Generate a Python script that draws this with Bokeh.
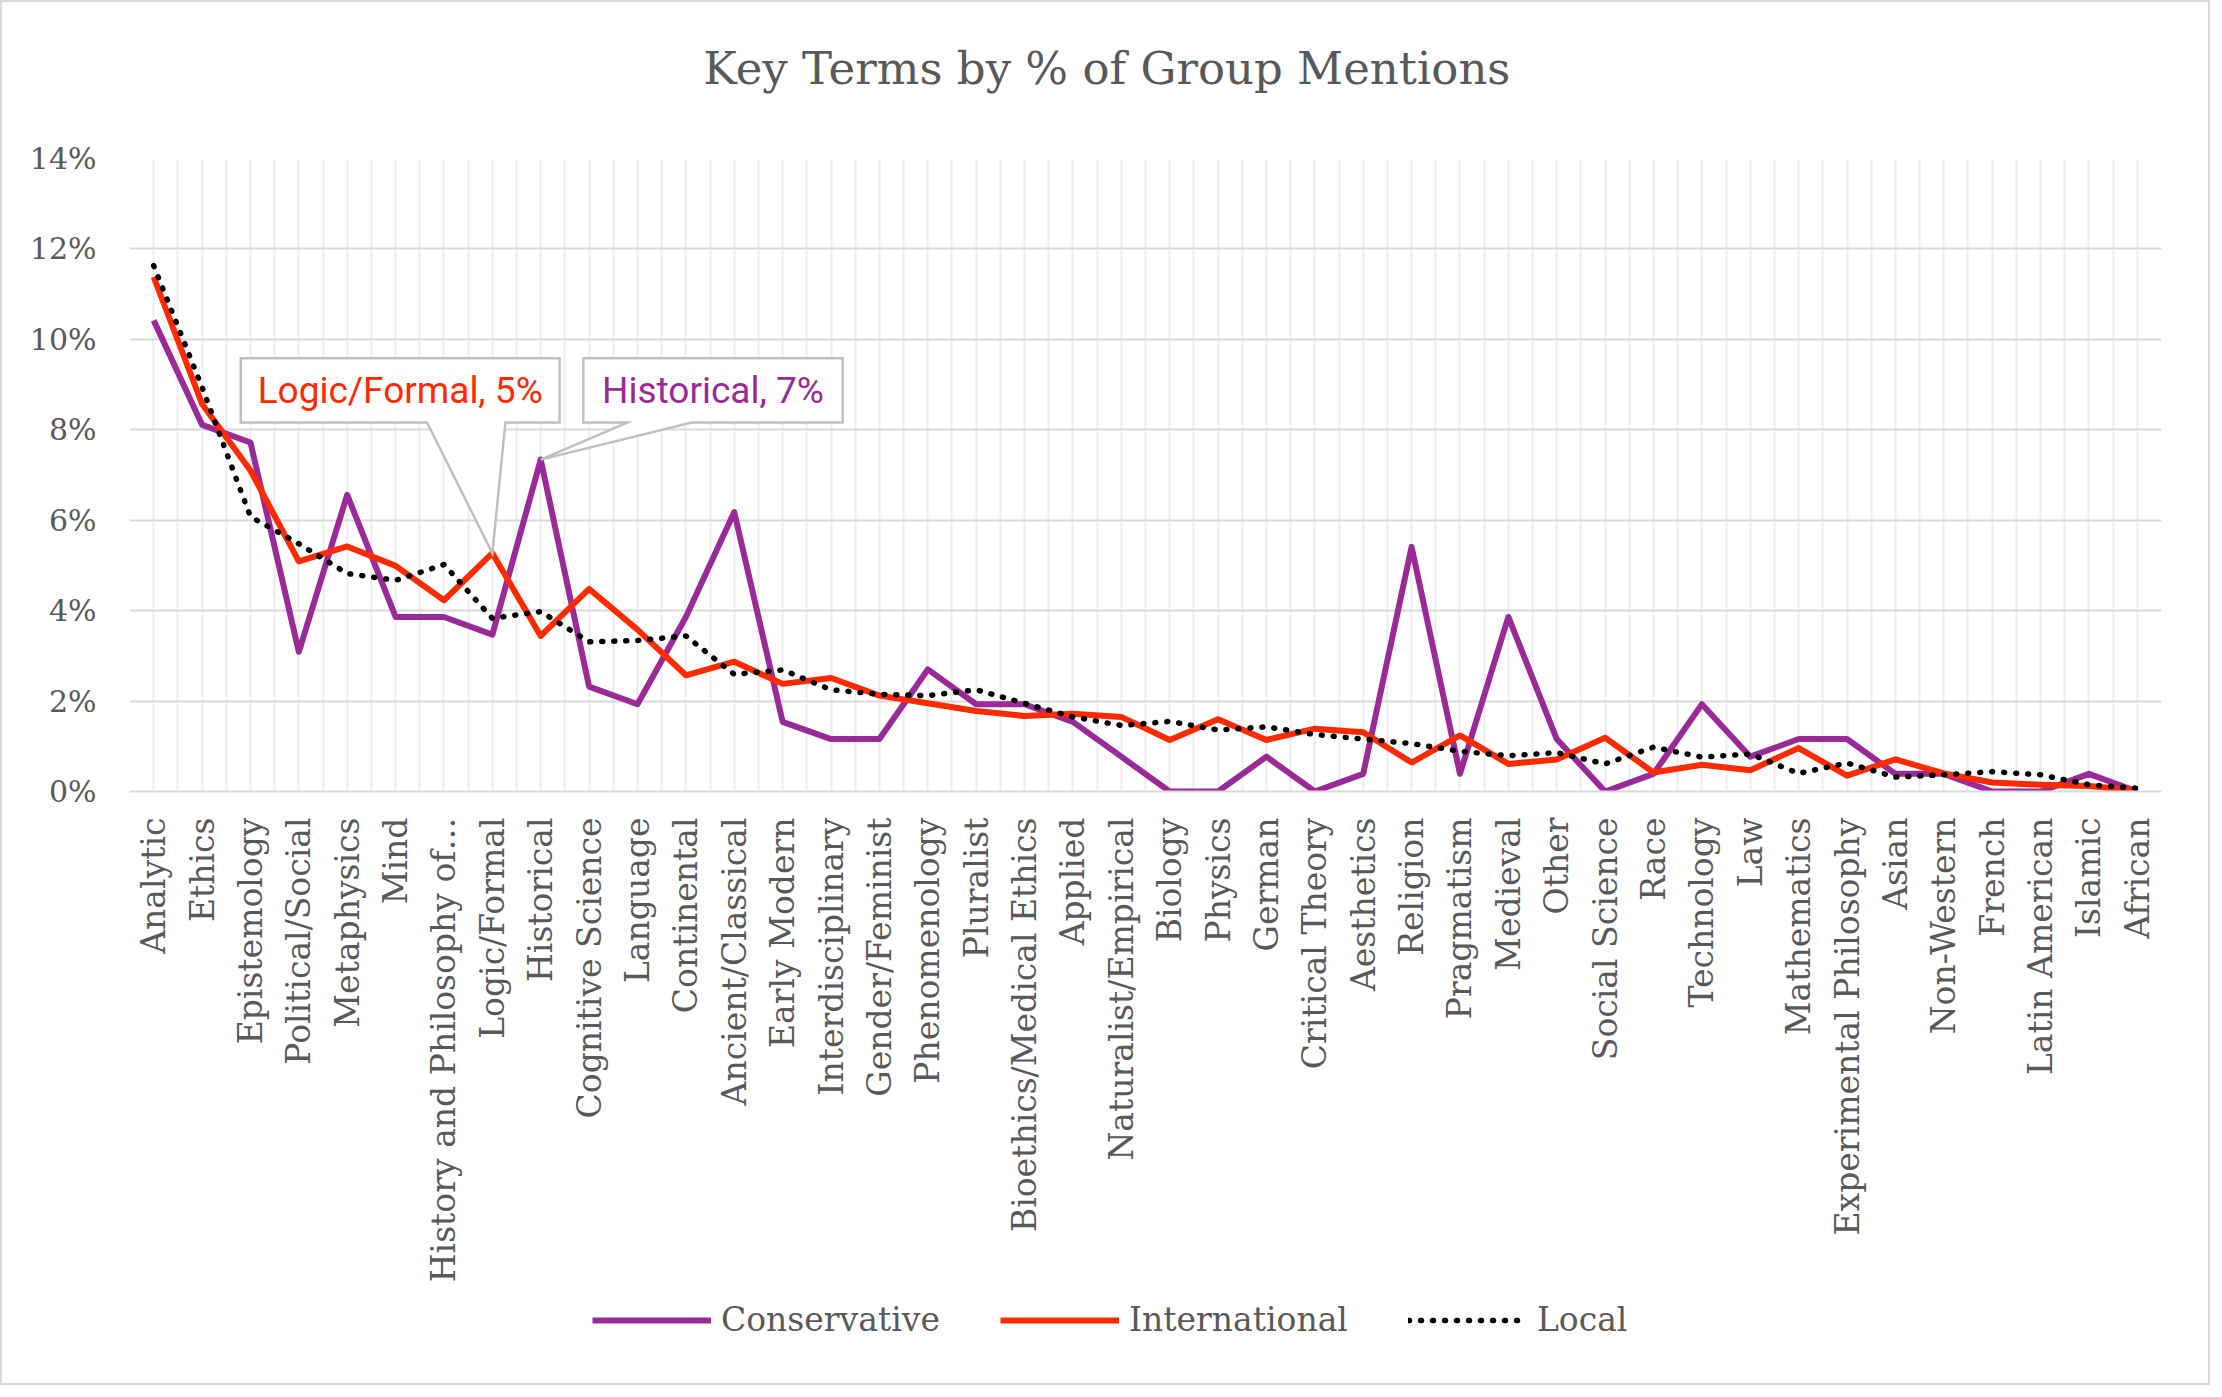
import numpy as np
from bokeh.plotting import figure
from bokeh.layouts import column
from bokeh.models import (Range1d, FixedTicker, PrintfTickFormatter, Legend,
                          LegendItem)
from bokeh.core.properties import value
from bokeh.embed import file_html
from bokeh.resources import INLINE

# ---------------- data ----------------
title_text = "Key Terms by % of Group Mentions"

categories = ["Analytic", "Ethics", "Epistemology", "Political/Social", "Metaphysics",
              "Mind", "History and Philosophy of\u2026", "Logic/Formal", "Historical",
              "Cognitive Science", "Language", "Continental", "Ancient/Classical",
              "Early Modern", "Interdisciplinary", "Gender/Feminist", "Phenomenology",
              "Pluralist", "Bioethics/Medical Ethics", "Applied", "Naturalist/Empirical",
              "Biology", "Physics", "German", "Critical Theory", "Aesthetics", "Religion",
              "Pragmatism", "Medieval", "Other", "Social Science", "Race", "Technology",
              "Law", "Mathematics", "Experimental Philosophy", "Asian", "Non-Western",
              "French", "Latin American", "Islamic", "African"]

conservative = [10.42, 8.11, 7.72, 3.09, 6.56, 3.86, 3.86, 3.47, 7.34, 2.32, 1.93, 3.86,
                6.18, 1.54, 1.16, 1.16, 2.70, 1.93, 1.93, 1.54, 0.77, 0.0, 0.0, 0.77,
                0.0, 0.39, 5.41, 0.39, 3.86, 1.16, 0.0, 0.39, 1.93, 0.77, 1.16, 1.16,
                0.39, 0.39, 0.0, 0.0, 0.39, 0.0]

international = [11.38, 8.57, 7.10, 5.09, 5.42, 4.99, 4.23, 5.27, 3.44, 4.48, 3.58, 2.57,
                 2.87, 2.38, 2.51, 2.12, 1.95, 1.78, 1.67, 1.72, 1.65, 1.14, 1.60, 1.14,
                 1.39, 1.31, 0.64, 1.24, 0.61, 0.71, 1.19, 0.42, 0.59, 0.47, 0.96, 0.35,
                 0.71, 0.40, 0.20, 0.15, 0.12, 0.02]

local = [11.63, 8.94, 6.08, 5.48, 4.82, 4.67, 5.02, 3.83, 3.98, 3.31, 3.34, 3.44, 2.59,
         2.69, 2.25, 2.15, 2.12, 2.25, 1.95, 1.65, 1.46, 1.55, 1.36, 1.43, 1.26, 1.16,
         1.06, 0.89, 0.79, 0.86, 0.61, 0.98, 0.76, 0.83, 0.40, 0.63, 0.32, 0.37, 0.44,
         0.37, 0.15, 0.07]

y_ticks = [0, 2, 4, 6, 8, 10, 12, 14]
series_names = ["Conservative", "International", "Local"]

# ---------------- styles ----------------
PURPLE = "#9A2A98"
RED = "#FF2A00"
TEXT = "#595959"
SERIF = "DejaVu Serif"
W = 2206
H_TITLE = 110
H_MAIN = 1180
H_LEG = 91

n = len(categories)
x = list(range(n))
series = [conservative, international, local]

# ---------------- title strip ----------------
tf = figure(width=W, height=H_TITLE, output_backend="svg", toolbar_location=None,
            x_axis_type=None, y_axis_type=None, x_range=Range1d(0, 1),
            y_range=Range1d(0, 1), min_border=0, outline_line_color=None)
tf.xgrid.visible = False
tf.ygrid.visible = False
tf.text(x=[0.481], y=[0.40], text=[title_text], text_align="center",
        text_baseline="middle", text_font=value(SERIF), text_font_size="45px",
        text_color=TEXT)

# ---------------- main plot ----------------
p = figure(width=W, height=H_MAIN, output_backend="svg", toolbar_location=None,
           x_range=Range1d(-0.5, n - 0.5), y_range=Range1d(0, 14),
           min_border_left=127, min_border_right=47, min_border_top=46,
           min_border_bottom=501, outline_line_color=None)
p.title.visible = False

# axes
xa = p.xaxis[0]
xa.ticker = FixedTicker(ticks=x)
xa.major_label_overrides = {i: c for i, c in enumerate(categories)}
xa.major_label_orientation = np.pi / 2
xa.axis_line_color = "#D9D9D9"
xa.axis_line_width = 2
xa.major_tick_line_color = None
xa.minor_tick_line_color = None
xa.major_label_text_font = SERIF
xa.major_label_text_font_size = "33px"
xa.major_label_text_color = TEXT
xa.major_label_standoff = 20

ya = p.yaxis[0]
ya.ticker = FixedTicker(ticks=y_ticks)
ya.formatter = PrintfTickFormatter(format="%d%%")
ya.axis_line_color = None
ya.major_tick_line_color = None
ya.minor_tick_line_color = None
ya.major_label_text_font = SERIF
ya.major_label_text_font_size = "30px"
ya.major_label_text_color = TEXT
ya.major_label_standoff = 27

# grids
p.xgrid.ticker = FixedTicker(ticks=[-0.5 + 0.5 * k for k in range(2 * n + 1)])
p.xgrid.grid_line_color = "#EDEDED"
p.xgrid.grid_line_width = 2
p.ygrid.ticker = FixedTicker(ticks=y_ticks)
p.ygrid.grid_line_color = "#D9D9D9"
p.ygrid.grid_line_width = 2

# series
line_styles = [dict(line_color=PURPLE, line_width=6, line_join="round"),
               dict(line_color=RED, line_width=6, line_join="round"),
               dict(line_color="black", line_width=5.5, line_dash="1 11",
                    line_cap="round", line_join="round")]
for vals, st in zip(series, line_styles):
    p.line(x, vals, **st)

# callouts
def callout(x0, x1, y0, y1, b0, b1, tip_x, tip_y, label, color):
    xs = [x0, x1, x1, b1, tip_x, b0, x0]
    ys = [y1, y1, y0, y0, tip_y, y0, y0]
    p.patch(xs, ys, fill_color="white", line_color="#BFBFBF", line_width=2.5,
            line_join="miter")
    p.text(x=[(x0 + x1) / 2], y=[(y0 + y1) / 2], text=[label], text_align="center",
           text_baseline="middle", text_font=value("Roboto"), text_font_size="37px",
           text_color=color)

i_logic = categories.index("Logic/Formal")
i_hist = categories.index("Historical")
callout(1.8, 8.39, 8.16, 9.58, 5.65, 7.27, i_logic, international[i_logic],
        f"{categories[i_logic]}, {round(international[i_logic])}%", RED)
callout(8.88, 14.24, 8.16, 9.58, 9.79, 11.12, i_hist, conservative[i_hist],
        f"{categories[i_hist]}, {round(conservative[i_hist])}%", PURPLE)

# ---------------- legend strip ----------------
# the same series are drawn here outside the visible ranges, only to feed the legend
lf = figure(width=W, height=H_LEG, output_backend="svg", toolbar_location=None,
            x_axis_type=None, y_axis_type=None, x_range=Range1d(-3, -2),
            y_range=Range1d(-3, -2), min_border=0, outline_line_color=None)
lf.xgrid.visible = False
lf.ygrid.visible = False
leg_renderers = [lf.line(x, vals, **st) for vals, st in zip(series, line_styles)]
legend = Legend(items=[LegendItem(label=nm, renderers=[r])
                       for nm, r in zip(series_names, leg_renderers)],
                orientation="horizontal", location=(463, 44), glyph_width=119,
                glyph_height=30, label_standoff=10, spacing=60, padding=0, margin=0,
                label_text_font=SERIF, label_text_font_size="33px",
                label_text_color=TEXT, border_line_color=None,
                background_fill_alpha=0)
lf.add_layout(legend, "center")

layout = column(tf, p, lf, spacing=0, styles={"border": "2px solid #D9D9D9"})

open("out.html", "w").write(file_html(layout, INLINE))
